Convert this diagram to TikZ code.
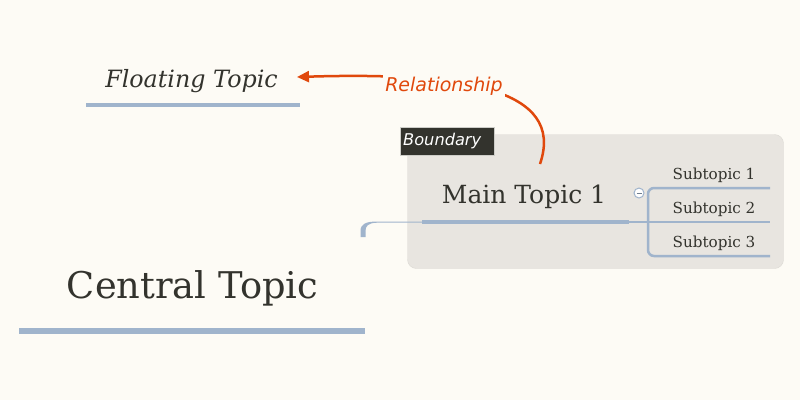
\documentclass[tikz,border=0pt]{standalone}
\usepackage{fontspec}
\setmainfont{DejaVu Serif}
\newfontfamily\dvsans{DejaVu Sans}
\usepackage{tikz}
\usetikzlibrary{
    arrows.meta,
    calc,
    positioning
}
\definecolor{paper}{RGB}{253,251,245}
\definecolor{ink}{RGB}{51,51,45}
\definecolor{bluegray}{RGB}{160,180,204}
\definecolor{relcol}{RGB}{224,72,12}
\definecolor{bdfill}{RGB}{232,229,224}
\definecolor{bdline}{RGB}{220,217,212}
\definecolor{tagfill}{RGB}{51,51,45}
\definecolor{tagline}{RGB}{205,205,200}

\begin{document}
\begin{tikzpicture}[x=1pt, y=-1pt,
    topic/.style={anchor=base, inner sep=0pt, text=ink},
    uline/.style={draw=bluegray, line cap=butt},
    branch/.style={draw=bluegray, line width=2.5pt},
    rel/.style={draw=relcol, line width=2.5pt, -{Triangle[length=12pt, width=11pt]}}]
                        \fill[paper] (0,0) rectangle (800,400);
                        \useasboundingbox (0,0) rectangle (800,400);

                        \draw[fill=bdfill, draw=bdline, rounded corners=9pt] (407.5,134.5) rectangle (783.5,268.5);
                        \node[anchor=north west, fill=tagfill, draw=tagline, text=white, inner xsep=3pt, inner ysep=6pt,
                            text width=88pt, align=left, text height=12pt, text depth=4pt,
                            font=\dvsans\itshape\fontsize{16.2}{18}\selectfont] (bd) at (400,127) {Boundary};

                        \node[topic, font=\itshape\fontsize{23.8}{26}\selectfont] (ft) at (191.5,87.5) {Floating Topic};
                        \node[topic, font=\fontsize{36.8}{40}\selectfont] (ct) at (192.5,298) {Central Topic};
                        \node[topic, font=\fontsize{25}{28}\selectfont] (mt1) at (524,203) {Main Topic 1};
                        \node[topic, font=\fontsize{15.2}{18}\selectfont] (st1) at (714,179) {Subtopic 1};
                        \node[topic, font=\fontsize{15.2}{18}\selectfont] (st2) at (714,213.5) {Subtopic 2};
                        \node[topic, font=\fontsize{15.2}{18}\selectfont] (st3) at (714,247.5) {Subtopic 3};

                        \draw[uline, line width=3.3pt] (86,105) -- (300,105);
                        \draw[uline, line width=5.5pt] (19,331) -- (365,331);

                        \coordinate (cc) at (363,237);
                        \coordinate (ml) at (422,222);
                        \coordinate (mr) at (629,222);
                        \coordinate (s1) at (770,188);
                        \coordinate (s2) at (770,222);
                        \coordinate (s3) at (770,256);
                        \fill[bluegray] (360.5,237) -- (360.5,231) .. controls (360.5,224) and (366,221.5) .. (377,221.5)
                            -- (422,221.5) -- (422,222.7) -- (377,222.7) .. controls (368,222.9) and (365.5,226) .. (365.5,231)
                            -- (365.5,237) -- cycle;
                        \draw[uline, line width=4.3pt] (ml) -- (mr);
                        \draw[branch] (mr) -- (s2);
                        \draw[branch, rounded corners=6pt] (s1) -- (648,188) -- (648,256) -- (s3);
                        \node[circle, draw=bluegray, fill=white, minimum size=10pt, inner sep=0pt, line width=1pt] (col) at (639,193) {};
                        \draw[bluegray!70!black, line width=0.9pt] ([xshift=-2.5pt]col.center) -- ([xshift=2.5pt]col.center);

                        \coordinate (rs) at (540,164);
                        \coordinate (re) at (297,77);
                        \draw[rel] (rs) .. controls (566,88) and (460,72) .. (re);
                        \node[anchor=base, fill=paper, inner sep=2pt, text=relcol,
                            font=\dvsans\itshape\fontsize{19}{22}\selectfont] (rl) at (444,91) {Relationship};
                    \end{tikzpicture}
\end{document}
